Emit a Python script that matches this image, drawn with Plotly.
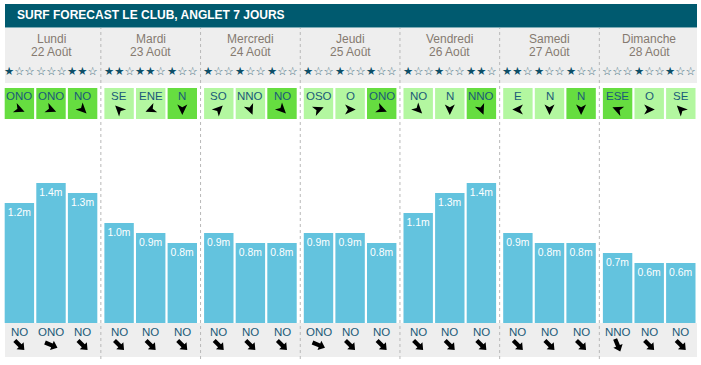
import math
import plotly.graph_objects as go

W, H = 701, 365

# ---------------- data ----------------
days = ["Lundi", "Mardi", "Mercredi", "Jeudi", "Vendredi", "Samedi", "Dimanche"]
dates = ["22 Août", "23 Août", "24 Août", "25 Août", "26 Août", "27 Août", "28 Août"]
wave_height = [1.2, 1.4, 1.3,  1.0, 0.9, 0.8,  0.9, 0.8, 0.8,  0.9, 0.9, 0.8,
               1.1, 1.3, 1.4,  0.9, 0.8, 0.8,  0.7, 0.6, 0.6]
stars = [1, 0, 2,  2, 2, 1,  1, 1, 1,  1, 1, 1,  1, 1, 2,  2, 1, 1,  0, 1, 1]
wind_dir = ["ONO", "ONO", "NO",  "SE", "ENE", "N",  "SO", "NNO", "NO",  "OSO", "O", "ONO",
            "NO", "N", "NNO",  "E", "N", "N",  "ESE", "O", "SE"]
wind_offshore = [1, 1, 1,  0, 0, 1,  0, 0, 1,  0, 0, 1,  0, 0, 1,  0, 0, 1,  1, 0, 0]
swell_dir = ["NO", "ONO", "NO",  "NO", "NO", "NO",  "NO", "NO", "NO",  "ONO", "NO", "NO",
             "NO", "NO", "NO",  "NO", "NO", "NO",  "NNO", "NO", "NO"]
title = "SURF FORECAST LE CLUB, ANGLET 7 JOURS"

COMPASS = {"N": 0, "NNE": 22.5, "NE": 45, "ENE": 67.5, "E": 90, "ESE": 112.5,
           "SE": 135, "SSE": 157.5, "S": 180, "SSO": 202.5, "SO": 225, "OSO": 247.5,
           "O": 270, "ONO": 292.5, "NO": 315, "NNO": 337.5}

# ---------------- style / layout ----------------
C_TITLE = "#005a6f"
C_BAND = "#eeeeee"
C_DAY = "#857a70"
C_LABEL = "#1a5a78"
C_STAR = "#0d4f68"
C_STAR_EMPTY = "#3f6f80"
C_DARKGREEN = "#66dd40"
C_LIGHTGREEN = "#b3f7a0"
C_BAR = "#63c3de"
C_SEP = "#b8b8b8"
FONT = "Liberation Sans, Arial, sans-serif"

SLOT = 0.317
BAR_W = 0.295
DAY_PX = 99.7
X0_PX = 51
BASE_PX = 323
PX_PER_M = 100

x_pos = [d + (s - 1) * SLOT for d in range(len(days)) for s in range(3)]


def py(y):
    return 1 - y / H


def pxp(x):
    return x / W


def rot(pts, ang):
    a = math.radians(ang)
    c, s = math.cos(a), math.sin(a)
    return [(x * c + y * s, -x * s + y * c) for x, y in pts]


def path(pts):
    return "M" + " L".join(f"{x:.2f},{y:.2f}" for x, y in pts) + " Z"


NAV = [(0, 5.6), (5.0, -5.0), (0, -2.2), (-5.0, -5.0)]
THICK = [(0, 7.0), (5.0, 1.0), (2.1, 1.0), (2.1, -6.5), (-2.1, -6.5), (-2.1, 1.0), (-5.0, 1.0)]

fig = go.Figure(go.Bar(
    x=x_pos, y=wave_height, width=BAR_W,
    marker=dict(color=C_BAR, line=dict(width=0)),
    text=[f"{v:.1f}m" for v in wave_height],
    textposition="inside", insidetextanchor="end", textangle=0,
    textfont=dict(color="white", size=10.5, family=FONT),
    hoverinfo="skip",
))

shapes = []
# title bar & grey bands
shapes.append(dict(type="rect", xref="paper", yref="paper", x0=pxp(5), x1=pxp(697),
                   y0=py(27.5), y1=py(4), fillcolor=C_TITLE, line=dict(width=0), layer="below"))
shapes.append(dict(type="rect", xref="paper", yref="paper", x0=pxp(5), x1=pxp(697),
                   y0=py(83), y1=py(28), fillcolor=C_BAND, line=dict(width=0), layer="below"))
shapes.append(dict(type="rect", xref="paper", yref="paper", x0=pxp(5), x1=pxp(697),
                   y0=py(357), y1=py(323), fillcolor=C_BAND, line=dict(width=0), layer="below"))
# wind boxes
for xi, ok in zip(x_pos, wind_offshore):
    shapes.append(dict(type="rect", xref="x", yref="paper", x0=xi - BAR_W / 2, x1=xi + BAR_W / 2,
                       y0=py(119), y1=py(88), fillcolor=C_DARKGREEN if ok else C_LIGHTGREEN,
                       line=dict(width=0), layer="below"))
# day separators
for d in range(len(days) - 1):
    shapes.append(dict(type="line", xref="x", yref="paper", x0=d + 0.5, x1=d + 0.5,
                       y0=py(359), y1=py(28), line=dict(color=C_SEP, width=1, dash="3px,3px"),
                       layer="above"))
# wind arrows (point downwind) & swell arrows
for xi, wd, sd in zip(x_pos, wind_dir, swell_dir):
    shapes.append(dict(type="path", xref="x", yref="paper", xsizemode="pixel", ysizemode="pixel",
                       xanchor=xi, yanchor=py(109.5), path=path(rot(NAV, (COMPASS[wd] + 180) % 360)),
                       fillcolor="black", line=dict(width=0)))
    shapes.append(dict(type="path", xref="x", yref="paper", xsizemode="pixel", ysizemode="pixel",
                       xanchor=xi, yanchor=py(345), path=path(rot(THICK, (COMPASS[sd] + 180) % 360)),
                       fillcolor="black", line=dict(width=0)))

ann = []
ann.append(dict(xref="paper", yref="paper", x=pxp(15), y=py(15.5), xanchor="left", yanchor="middle",
                text=f"<b>{title}</b>", showarrow=False, font=dict(color="white", size=12, family=FONT)))
for d, (dn, dt) in enumerate(zip(days, dates)):
    ann.append(dict(xref="x", yref="paper", x=d, y=py(39.5), text=dn, showarrow=False,
                    xanchor="center", yanchor="middle", font=dict(color=C_DAY, size=12, family=FONT)))
    ann.append(dict(xref="x", yref="paper", x=d, y=py(51.5), text=dt, showarrow=False,
                    xanchor="center", yanchor="middle", font=dict(color=C_DAY, size=12, family=FONT)))
for xi, n, wd, sd in zip(x_pos, stars, wind_dir, swell_dir):
    st = ""
    if n:
        st += f"<span style='color:{C_STAR}'>{'★' * n}</span>"
    if 3 - n:
        st += f"<span style='color:{C_STAR_EMPTY}'>{'☆' * (3 - n)}</span>"
    ann.append(dict(xref="x", yref="paper", x=xi, y=py(70.5), text=st, showarrow=False,
                    xanchor="center", yanchor="middle", font=dict(size=11.4, family="DejaVu Sans")))
    ann.append(dict(xref="x", yref="paper", x=xi, y=py(96), text=wd, showarrow=False,
                    xanchor="center", yanchor="middle", font=dict(color=C_LABEL, size=11.5, family=FONT)))
    ann.append(dict(xref="x", yref="paper", x=xi, y=py(331.5), text=sd, showarrow=False,
                    xanchor="center", yanchor="middle", font=dict(color=C_LABEL, size=11.5, family=FONT)))

fig.update_layout(
    width=W, height=H, margin=dict(l=0, r=0, t=0, b=0),
    paper_bgcolor="white", plot_bgcolor="white", showlegend=False,
    xaxis=dict(range=[-X0_PX / DAY_PX, (W - X0_PX) / DAY_PX], domain=[0, 1], visible=False, fixedrange=True),
    yaxis=dict(range=[0, BASE_PX / PX_PER_M], domain=[(H - BASE_PX) / H, 1], visible=False, fixedrange=True),
    shapes=shapes, annotations=ann,
)

fig.write_html("out.html", config={"displayModeBar": False},
               post_script="document.body.style.margin='0';document.body.style.overflow='hidden';")
